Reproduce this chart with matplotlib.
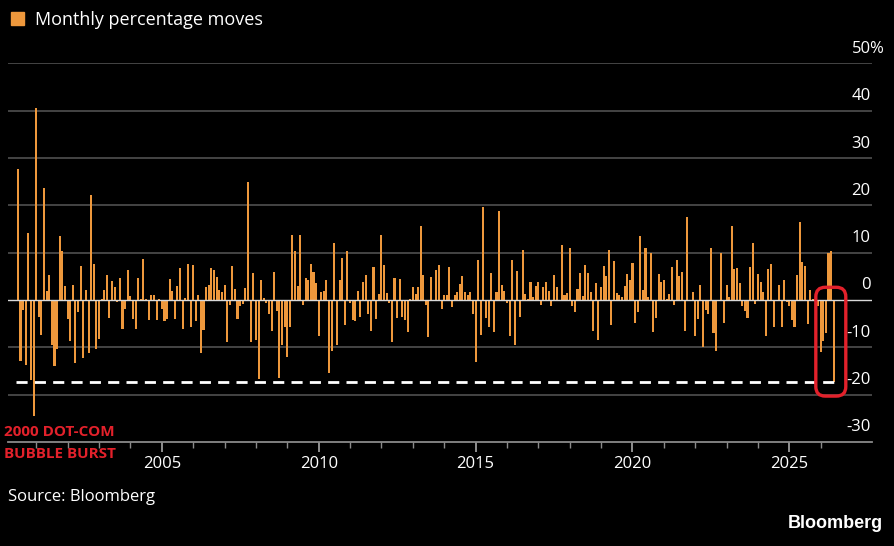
import matplotlib
matplotlib.use("Agg")
import matplotlib.pyplot as plt
import matplotlib.dates as mdates
from matplotlib.patches import Patch, FancyBboxPatch
import pandas as pd

# monthly % moves, Jun 2000 onwards
moves = [
    27.8, -12.8, -2.0, -13.7, 14.1, -16.8, -24.5, 40.6, -3.5, -7.4, 23.7, 2.0, 5.4, -9.5, -13.9, -10.4,
    13.5, 10.3, 3.0, -3.9, -8.6, 3.2, -13.4, -2.6, 7.3, -12.3, 2.1, -11.1, 22.1, 7.7, -10.4, -8.3,
    0.3, 2.1, 5.4, -3.7, 4.1, 2.8, -0.5, 4.6, -6.1, -1.8, 6.3, 0.8, -4.1, -6.1, 4.6, 0.2,
    8.7, 0.2, -4.2, 1.1, 1.0, -4.2, 0.3, -1.8, -4.4, -4.1, 4.4, 1.9, -3.9, 2.9, 6.7,
    -6.1, 0.5, 7.6, -5.6, 7.5, -4.5, 1.1, -11.2, -6.3, 2.7, 3.2, 6.7, 6.4, 4.8, 2.2, 1.7,
    3.2, -8.8, -1.1, 7.3, 2.4, -4.0, -1.3, -0.8, 2.5, 24.9, -8.8, 5.8, -8.5, -16.6, 4.2, 0.4,
    -0.6, -2.9, -6.5, 6.0, -2.3, -16.4, -9.6, -5.6, -12.1, -5.6, 13.7, 10.3, 3.0, 13.7, -1.1,
    4.6, 4.3, 7.7, 5.9, 3.5, -7.5, 1.6, 2.0, 4.2, -15.5, -10.8, 12.0, -9.4, 4.3, 8.9, -5.3,
    10.4, -0.6, -4.3, -4.5, 2.0, -3.5, 3.9, 5.3, -2.9, -6.5, 6.9, -3.9, 1.3, 13.7, 7.4, 1.5,
    -0.6, -8.9, 4.6, -3.7, 4.4, -3.5, -4.2, -6.8, 0.2, 2.7, 1.3, 2.7, 15.7, 5.3, -1.1, -7.9,
    4.8, -0.3, 6.3, 7.5,
    -1.9, 1.0, 1.1, 6.9, -1.4, 1.1, 1.7, 3.4, 5.1, 1.8, 1.1, 1.7, -2.9, -13.1, 8.5, -7.3,
    19.6, -3.7, -5.8, 5.7, -6.8, 1.6, 18.9, 3.2, 2.0, -0.6, -7.7, 8.5, -9.6, 6.2, -3.5, 10.6,
    1.3, 0.2, 3.9, 0.6, 3.0, 3.9, -1.1, 2.8, 3.8, 2.0, -1.3, 5.4, 2.7, -0.3, 11.6, 1.1,
    1.5, 11.0, -1.3, -2.6,
    2.4, 5.7, 0.8, 7.5, 5.8, 1.7, -6.6, 3.7, -8.5, 2.7, 7.2, 5.1, 10.6, -5.3, 8.2, 1.5,
    1.0, 0.6, 3.0, 5.5, 4.2, 7.8, -4.9, -2.6, 13.6, 2.2, 10.9, 0.6, 9.9, -6.8, -3.7, 5.6,
    3.8, 4.2, 0.2, 1.3, 7.0, -1.0, 8.5, 5.1, 5.9, -6.6, 17.5, -0.3, 1.7, -7.5, -4.0, 3.1,
    -10.0, -2.0, -2.9, 11.0,
    -6.9, -10.8, -0.3, 9.9, -4.9, 3.2, 0.6, 15.6, 6.5, 6.8, 3.6, -1.3, -2.4, -3.7, 7.0, 12.0,
    -0.8, 5.6, 3.9, 1.6, -7.5, 6.6, 7.6, -5.6, -0.3, 3.2, -5.6, 4.2, -0.5, -1.3, -4.3, -5.6,
    5.2, 16.5, 8.0, 7.3, -5.1, 2.2, 0.3, -0.5, -1.3, -11.0, -8.7, -7.0, 9.9, 10.4, -17.3,
]
months = pd.date_range("2000-06-01", periods=len(moves), freq="MS")

y_ticks = [50, 40, 30, 20, 10, 0, -10, -20, -30]
minor_years = list(range(2001, 2027))
worst = moves[-1]

orange = "#EE983C"
red = "#E3212B"
font = ["Open Sans", "DejaVu Sans"]
plt.rcParams["font.family"] = font

fig = plt.figure(figsize=(8.95, 5.46), dpi=100, facecolor="black")
ax = fig.add_axes([0.0089, 0.1905, 0.9654, 0.6932], facecolor="black")

for v in y_ticks[:-1]:
    if v == 0:
        continue
    ax.axhline(v, color="#4a4a4a", lw=1.3, zorder=0)

ax.bar(months, moves, width=24, color=orange, zorder=2)
ax.axhline(0, color="#d9d9d9", lw=1.0, zorder=3)

# dashed line at the latest month's drop
ax.hlines(worst, months[0] - pd.Timedelta(days=20), months[-1], colors="white",
          lw=2.0, linestyles=(0, (4, 2.6)), zorder=4)

ax.set_ylim(-30, 50)
ax.set_xlim(pd.Timestamp("2000-02-06"), pd.Timestamp("2027-08-20"))

# red box around the latest months
x0 = mdates.date2num(months[-1]) - 209
x1 = mdates.date2num(months[-1]) + 140
box = FancyBboxPatch((x0, -20.3), x1 - x0, 23.0,
                     boxstyle="round,pad=0,rounding_size=110",
                     mutation_aspect=0.0182, fill=False, ec=red, lw=2.4, zorder=5)
ax.add_patch(box)

for s in ["top", "right", "left"]:
    ax.spines[s].set_visible(False)
ax.spines["bottom"].set_color("#8a8a8a")
ax.spines["bottom"].set_linewidth(1.3)
ax.set_yticks([])

ax.xaxis.set_major_locator(mdates.YearLocator(5))
ax.xaxis.set_major_formatter(mdates.DateFormatter("%Y"))
ax.set_xticks([pd.Timestamp(f"{y}-01-01") for y in minor_years], minor=True)
ax.tick_params(axis="x", which="major", colors="white", length=7, width=1.3,
               labelsize=12, pad=3, color="#9a9a9a")
ax.tick_params(axis="x", which="minor", length=4, width=1.0, color="#8a8a8a")

for v in y_ticks:
    ax.annotate(str(v), xy=(1, v), xycoords=("axes fraction", "data"),
                xytext=(-1, 10.5), textcoords="offset points",
                ha="right", va="center", color="white", fontsize=12,
                annotation_clip=False)
ax.annotate("%", xy=(1, y_ticks[0]), xycoords=("axes fraction", "data"),
            xytext=(-2, 10.5), textcoords="offset points",
            ha="left", va="center", color="white", fontsize=12,
            annotation_clip=False)

fig.text(0.005, 0.208, "2000 DOT-COM", color=red,
         fontsize=11, fontweight="bold", ha="left", va="center")
fig.text(0.005, 0.168, "BUBBLE BURST", color=red,
         fontsize=11, fontweight="bold", ha="left", va="center")

fig.legend(handles=[Patch(color=orange)], labels=["Monthly percentage moves"],
           loc="upper left", bbox_to_anchor=(0.0, 1.0), frameon=False,
           handlelength=0.75, handleheight=0.75, handletextpad=0.6,
           labelcolor="white", fontsize=13, borderaxespad=0.2)

fig.text(0.009, 0.089, "Source: Bloomberg", color="white", fontsize=12,
         ha="left", va="center")
fig.text(0.987, 0.042, "Bloomberg", color="white", fontsize=13,
         fontweight="bold", ha="right", va="center",
         family=["Liberation Sans", "DejaVu Sans"])

fig.savefig("out.png", dpi=100, facecolor="black")
